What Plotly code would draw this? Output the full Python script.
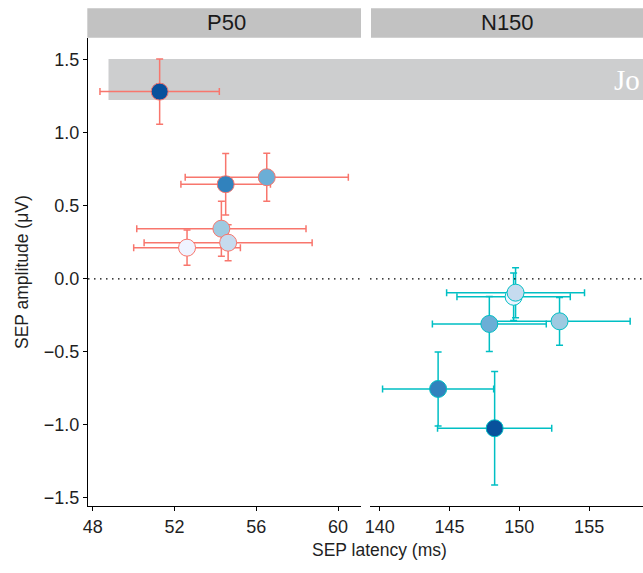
import plotly.graph_objects as go

# ---- data ----
groups = ["G1", "G2", "G3", "G4", "G5", "G6"]
group_colors = ["#08519c", "#3182bd", "#6baed6", "#9ecae1", "#eff3ff", "#c6dbef"]

p50_latency = [51.27, 54.50, 56.51, 54.29, 52.61, 54.62]
p50_latency_err = [2.92, 2.19, 3.99, 4.14, 2.61, 4.11]
p50_amp = [1.281, 0.647, 0.695, 0.343, 0.213, 0.247]
p50_amp_err = [0.224, 0.211, 0.164, 0.188, 0.121, 0.123]

n150_latency = [148.23, 144.18, 147.85, 152.88, 149.59, 149.73]
n150_latency_err = [4.09, 3.98, 4.08, 5.06, 4.06, 4.94]
n150_amp = [-1.023, -0.754, -0.309, -0.291, -0.123, -0.095]
n150_amp_err = [0.388, 0.253, 0.188, 0.163, 0.162, 0.171]

panel_labels = ["P50", "N150"]
panel_colors = ["#f8766d", "#00bfc4"]
x1_ticks = [48, 52, 56, 60]
x2_ticks = [140, 145, 150, 155]
y_ticks = [-1.5, -1.0, -0.5, 0.0, 0.5, 1.0, 1.5]
y_ticktext = ["\u22121.5", "\u22121.0", "\u22120.5", "0.0", "0.5", "1.0", "1.5"]

FONT = "Liberation Sans, Arial, sans-serif"

fig = go.Figure()

def add_panel(lat, lat_err, amp, amp_err, color, xa, ya):
    fig.add_trace(go.Scatter(
        x=lat, y=amp, mode="markers", xaxis=xa, yaxis=ya,
        text=groups, showlegend=False,
        error_x=dict(type="data", array=lat_err, color=color, thickness=1.5, width=3.5),
        error_y=dict(type="data", array=amp_err, color=color, thickness=1.5, width=3.5),
        marker=dict(size=17, color=group_colors, line=dict(color=color, width=1)),
    ))

add_panel(p50_latency, p50_latency_err, p50_amp, p50_amp_err, panel_colors[0], "x", "y")
add_panel(n150_latency, n150_latency_err, n150_amp, n150_amp_err, panel_colors[1], "x2", "y2")

W, H = 643, 573
ml, mr, mt, mb = 88, 0, 38, 67
pw, ph = W - ml - mr, H - mt - mb

def px_x(p):
    return (p - ml) / pw

def px_y(p):
    return (H - mb - p) / ph

axis_common = dict(showgrid=False, zeroline=False, showline=True, linecolor="black",
                   linewidth=1, ticks="outside", ticklen=4, tickcolor="black", automargin=False,
                   tickfont=dict(family=FONT, size=18, color="#1f1f1f"))

fig.update_layout(
    width=W, height=H,
    margin=dict(l=ml, r=mr, t=mt, b=mb, autoexpand=False),
    paper_bgcolor="white", plot_bgcolor="white",
    xaxis=dict(domain=[0, px_x(361)], range=[47.765, 61.12], tickvals=x1_ticks, **axis_common),
    xaxis2=dict(domain=[px_x(370), 1], range=[139.3, 158.86], tickvals=x2_ticks, **axis_common),
    yaxis=dict(range=[-1.555, 1.648], tickvals=y_ticks, ticktext=y_ticktext,
               anchor="x", **axis_common),
    yaxis2=dict(range=[-1.555, 1.648], matches="y", showticklabels=False, showgrid=False,
                zeroline=False, showline=False, ticks="", anchor="x2", automargin=False),
    font=dict(family=FONT),
)

shapes = []
# zero reference lines
shapes.append(dict(type="line", xref="x domain", yref="y", x0=0, x1=1, y0=0, y1=0,
                   line=dict(color="black", width=1.2, dash="1.5px,4.5px")))
shapes.append(dict(type="line", xref="x2 domain", yref="y2", x0=0, x1=1, y0=0, y1=0,
                   line=dict(color="black", width=1.2, dash="1.5px,4.5px")))
# facet strips
shapes.append(dict(type="rect", xref="paper", yref="paper", x0=px_x(87.3), x1=px_x(361),
                   y0=px_y(37.7), y1=px_y(8.3), fillcolor="#c2c2c2", line=dict(width=0)))
shapes.append(dict(type="rect", xref="paper", yref="paper", x0=px_x(371), x1=1.0,
                   y0=px_y(37.7), y1=px_y(8.3), fillcolor="#c2c2c2", line=dict(width=0)))
# grey banner
shapes.append(dict(type="rect", xref="paper", yref="paper", x0=px_x(108.5), x1=1.0,
                   y0=px_y(100), y1=px_y(59), fillcolor="#cdcecf", line=dict(width=0), layer="below"))
fig.update_layout(shapes=shapes)

annotations = [
    dict(text=panel_labels[0], xref="paper", yref="paper", x=px_x(226), y=px_y(23),
         showarrow=False, font=dict(family=FONT, size=22, color="#1a1a1a"), xanchor="center", yanchor="middle"),
    dict(text=panel_labels[1], xref="paper", yref="paper", x=px_x(507), y=px_y(23),
         showarrow=False, font=dict(family=FONT, size=22, color="#1a1a1a"), xanchor="center", yanchor="middle"),
    dict(text="SEP latency (ms)", xref="paper", yref="paper", x=px_x(379), y=px_y(550),
         showarrow=False, font=dict(family=FONT, size=17.5, color="#1f1f1f"), xanchor="center", yanchor="middle"),
    dict(text="SEP amplitude (\u03bcV)", xref="paper", yref="paper", x=px_x(22), y=px_y(272),
         showarrow=False, textangle=-90, font=dict(family=FONT, size=17.5, color="#1f1f1f"),
         xanchor="center", yanchor="middle"),
    dict(text="Jo", xref="paper", yref="paper", x=px_x(642), y=px_y(80),
         showarrow=False, font=dict(family="Liberation Serif, Times New Roman, serif", size=29, color="white"),
         xanchor="right", yanchor="middle"),
]
fig.update_layout(annotations=annotations)

fig.write_html("out.html", config={"displayModeBar": False},
               post_script="document.body.style.margin='0px';")
